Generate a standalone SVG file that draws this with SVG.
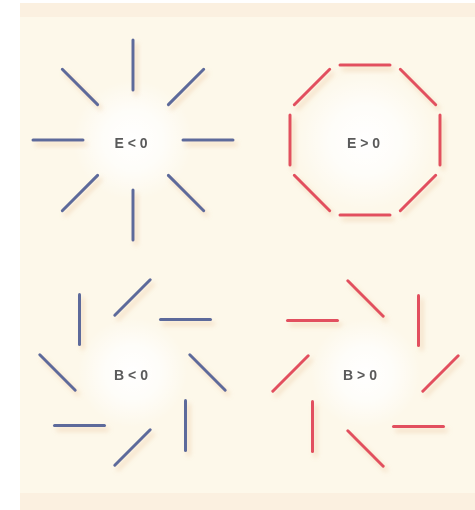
<svg xmlns="http://www.w3.org/2000/svg" width="475" height="510" viewBox="0 0 475 510">
<style>
.b{stroke:#5d6b9b;stroke-width:3;stroke-linecap:round;fill:none}
.r{stroke:#e2505f;stroke-width:3;stroke-linecap:round;fill:none}
.t{font-family:"Liberation Sans",Arial,sans-serif;font-size:14px;font-weight:bold;fill:#5a5a5a;text-anchor:middle}
</style>
<defs>
<filter id="sh" x="-30%" y="-30%" width="160%" height="160%">
<feOffset in="SourceAlpha" dx="3" dy="4" result="o"/>
<feGaussianBlur in="o" stdDeviation="2.5" result="bl"/>
<feFlood flood-color="#e6b88a" flood-opacity="0.5"/>
<feComposite in2="bl" operator="in" result="s"/>
<feMerge><feMergeNode in="s"/><feMergeNode in="SourceGraphic"/></feMerge>
</filter>
<filter id="tb" x="-10%" y="-10%" width="120%" height="120%"><feGaussianBlur stdDeviation="0.45"/></filter>
<radialGradient id="glow">
<stop offset="0" stop-color="#ffffff" stop-opacity="1"/>
<stop offset="0.5" stop-color="#ffffff" stop-opacity="0.7"/>
<stop offset="1" stop-color="#ffffff" stop-opacity="0"/>
</radialGradient>
</defs>
<rect x="0" y="0" width="475" height="510" fill="#ffffff"/>
<rect x="20" y="3" width="455" height="507" fill="#fdf8ea"/>
<rect x="20" y="3" width="455" height="14" fill="#fbf0e0"/>
<rect x="20" y="493" width="455" height="17" fill="#fbf0e0"/>
<g id="e-neg">
<circle cx="133" cy="140" r="60" fill="url(#glow)"/>
<g class="b" filter="url(#sh)">
<line x1="133" y1="90" x2="133" y2="40"/>
<line x1="168.4" y1="104.6" x2="203.7" y2="69.3"/>
<line x1="183" y1="140" x2="233" y2="140"/>
<line x1="168.4" y1="175.4" x2="203.7" y2="210.7"/>
<line x1="133" y1="190" x2="133" y2="240"/>
<line x1="97.6" y1="175.4" x2="62.3" y2="210.7"/>
<line x1="83" y1="140" x2="33" y2="140"/>
<line x1="97.6" y1="104.6" x2="62.3" y2="69.3"/>
</g>
<text class="t" x="131" y="148" filter="url(#tb)">E &lt; 0</text>
</g>
<g id="e-pos">
<circle cx="365" cy="140" r="70" fill="url(#glow)"/>
<g class="r" filter="url(#sh)">
<line x1="340" y1="65" x2="390" y2="65"/>
<line x1="340" y1="215" x2="390" y2="215"/>
<line x1="290" y1="115" x2="290" y2="165"/>
<line x1="440" y1="115" x2="440" y2="165"/>
<line x1="294.3" y1="104.7" x2="329.7" y2="69.3"/>
<line x1="400.3" y1="69.3" x2="435.7" y2="104.7"/>
<line x1="435.7" y1="175.3" x2="400.3" y2="210.7"/>
<line x1="294.3" y1="175.3" x2="329.7" y2="210.7"/>
</g>
<text class="t" x="363.5" y="148" filter="url(#tb)">E &gt; 0</text>
</g>
<g id="b-neg">
<circle cx="132.5" cy="372.5" r="55" fill="url(#glow)"/>
<g class="b" filter="url(#sh)">
<line x1="114.8" y1="315.2" x2="150.2" y2="279.8"/>
<line x1="160.5" y1="319.5" x2="210.5" y2="319.5"/>
<line x1="189.8" y1="354.8" x2="225.2" y2="390.2"/>
<line x1="185.5" y1="400.5" x2="185.5" y2="450.5"/>
<line x1="150.2" y1="429.8" x2="114.8" y2="465.2"/>
<line x1="54.5" y1="425.5" x2="104.5" y2="425.5"/>
<line x1="39.8" y1="354.8" x2="75.2" y2="390.2"/>
<line x1="79.5" y1="294.5" x2="79.5" y2="344.5"/>
</g>
<text class="t" x="131" y="380" filter="url(#tb)">B &lt; 0</text>
</g>
<g id="b-pos">
<circle cx="365.5" cy="373.5" r="55" fill="url(#glow)"/>
<g class="r" filter="url(#sh)">
<line x1="347.8" y1="280.8" x2="383.2" y2="316.2"/>
<line x1="418.5" y1="295.5" x2="418.5" y2="345.5"/>
<line x1="422.8" y1="391.2" x2="458.2" y2="355.8"/>
<line x1="393.5" y1="426.5" x2="443.5" y2="426.5"/>
<line x1="347.8" y1="430.8" x2="383.2" y2="466.2"/>
<line x1="312.5" y1="401.5" x2="312.5" y2="451.5"/>
<line x1="308.2" y1="355.8" x2="272.8" y2="391.2"/>
<line x1="287.5" y1="320.5" x2="337.5" y2="320.5"/>
</g>
<text class="t" x="360" y="380" filter="url(#tb)">B &gt; 0</text>
</g>
</svg>
